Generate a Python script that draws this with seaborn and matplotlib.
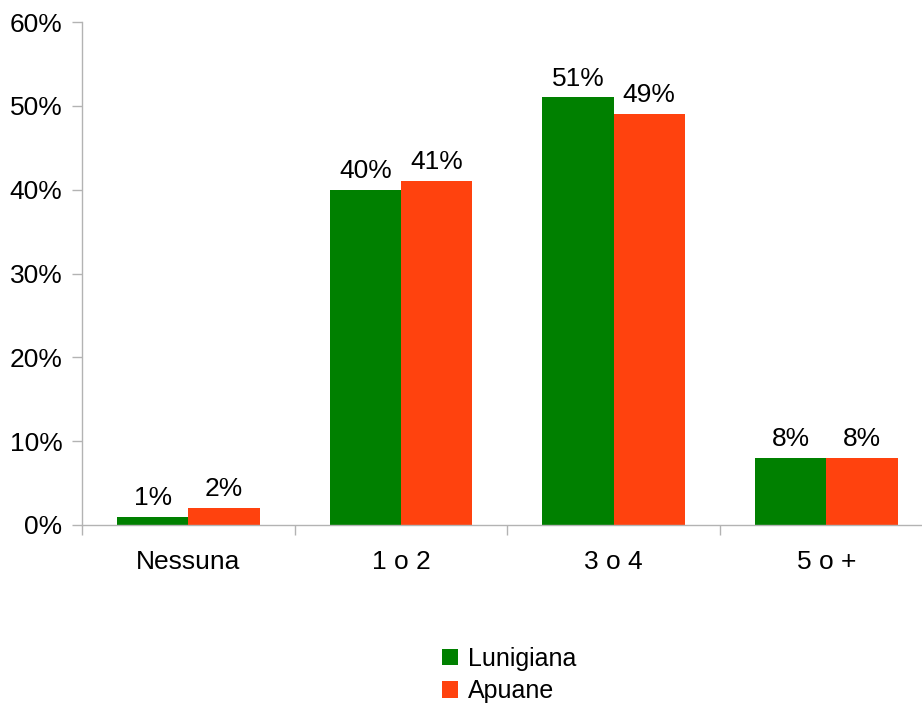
import matplotlib
matplotlib.use("Agg")
import matplotlib.pyplot as plt
from matplotlib.ticker import FuncFormatter, FixedLocator
import seaborn as sns
import pandas as pd

categories = ["Nessuna", "1 o 2", "3 o 4", "5 o +"]
series_names = ["Lunigiana", "Apuane"]
lunigiana = [1, 40, 51, 8]
apuane = [2, 41, 49, 8]
colors = ["#008000", "#ff420e"]
y_ticks = [0, 10, 20, 30, 40, 50, 60]

df = pd.DataFrame({
    "categoria": categories * 2,
    "serie": [series_names[0]] * 4 + [series_names[1]] * 4,
    "valore": lunigiana + apuane,
})

sns.set_theme(style="white")
plt.rcParams["font.family"] = ["Liberation Sans", "DejaVu Sans"]
plt.rcParams["text.color"] = "black"

fig = plt.figure(figsize=(9.22, 7.04), dpi=100)
ax = fig.add_axes([82 / 922, 1 - 525 / 704, 1 - 82 / 922, (525 - 22) / 704])

sns.barplot(data=df, x="categoria", y="valore", hue="serie", order=categories,
            hue_order=series_names, palette=colors, width=0.67, gap=0,
            saturation=1, edgecolor="none", linewidth=0, ax=ax, legend=True)

for cont in ax.containers:
    ax.bar_label(cont, labels=[f"{v:.0f}%" for v in cont.datavalues],
                 padding=5, fontsize=19, color="black")

ax.set_ylim(0, 60)
ax.set_xlim(-0.5, 3.45)
ax.yaxis.set_major_locator(FixedLocator(y_ticks))
ax.yaxis.set_major_formatter(FuncFormatter(lambda v, p: f"{v:.0f}%"))
ax.set_xlabel("")
ax.set_ylabel("")

spine_color = "#b3b3b3"
for side in ["top", "right"]:
    ax.spines[side].set_visible(False)
for side in ["left", "bottom"]:
    ax.spines[side].set_color(spine_color)
    ax.spines[side].set_linewidth(1)

ax.tick_params(axis="y", which="major", direction="out", length=7, width=1,
               color=spine_color, pad=7, labelsize=19, labelcolor="black", left=True)
ax.tick_params(axis="x", which="major", length=0, pad=18, labelsize=19,
               labelcolor="black")
ax.xaxis.set_minor_locator(FixedLocator([-0.5, 0.5, 1.5, 2.5, 3.5]))
ax.tick_params(axis="x", which="minor", direction="out", length=7, width=1,
               color=spine_color, bottom=True)

handles, labels = ax.get_legend_handles_labels()
ax.get_legend().remove()
fig.legend(handles, labels, loc="center", bbox_to_anchor=(0.552, 1 - 675 / 704),
           frameon=False, fontsize=18, handlelength=0.65, handleheight=0.65,
           handletextpad=0.4, labelspacing=0.35, labelcolor="black")

fig.savefig("out.png", dpi=100)
